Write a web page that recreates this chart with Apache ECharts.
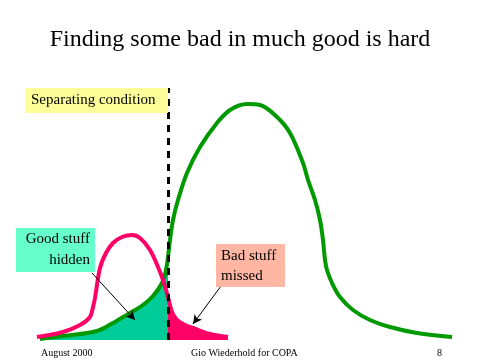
<!DOCTYPE html>
<html>
<head>
<meta charset="utf-8">
<script src="https://cdn.jsdelivr.net/npm/echarts@6/dist/echarts.min.js"></script>
<style>html,body{margin:0;padding:0;background:#fff}#c{width:480px;height:360px}</style>
</head>
<body>
<div id="c"></div>
<script>
// Score (x) vs. frequency (y)
const goodX = [4, 27, 61, 77, 87, 94, 107, 117, 126, 130, 132, 134, 137, 142, 151, 164, 181, 194, 211, 224, 241, 254, 267, 272, 279, 284, 287, 289, 291, 296, 304, 317, 334, 354, 381, 416];
const goodY = [1, 4, 9, 17, 23, 27, 35, 44, 57, 70, 83, 100, 120, 140, 167, 193, 217, 230, 236, 235, 223, 207, 177, 160, 140, 120, 100, 80, 70, 57, 43, 30, 20, 13, 7, 3];
const badX = [1, 27, 44, 54, 57, 59, 64, 70, 77, 86, 96, 104, 114, 122, 127, 130, 132, 136, 141, 149, 157, 174, 192];
const badY = [3, 8, 15, 23, 33, 42, 72, 87, 97, 103, 105, 102, 90, 73, 60, 50, 43, 28, 20, 15, 12, 6, 3];
const threshold = 132;
const titleText = 'Finding some bad in much good is hard';
const labels = { sep: 'Separating condition', good: 'Good stuff\nhidden', bad: 'Bad stuff\nmissed' };
const arrowGood = [[56, 67], [99, 20]];
const arrowBad = [[185, 54], [157, 16]];
const footer = ['August 2000', 'Gio Wiederhold for COPA', '8'];

const good = goodX.map((x, i) => [x, goodY[i]]);
const bad = badX.map((x, i) => [x, badY[i]]);
const goodHidden = good.filter(p => p[0] <= threshold);
const badMissed = bad.filter(p => p[0] >= threshold);

const serif = '"Liberation Serif", "Times New Roman", serif';
const SM = 0.35;
const chart = echarts.init(document.getElementById('c'), null, { renderer: 'canvas' });
chart.setOption({
  animation: false,
  backgroundColor: '#ffffff',
  grid: { left: 36, top: 88, width: 420, height: 252 },
  xAxis: { type: 'value', min: 0, max: 420, show: false },
  yAxis: { type: 'value', min: 0, max: 252, show: false },
  series: [
    { type: 'line', data: goodHidden, smooth: SM, showSymbol: false, silent: true,
      lineStyle: { width: 0 }, areaStyle: { color: '#00CC99', opacity: 1 }, z: 1 },
    { type: 'line', data: badMissed, smooth: SM, showSymbol: false, silent: true,
      lineStyle: { width: 0 }, areaStyle: { color: '#FF0066', opacity: 1 }, z: 1 },
    { type: 'line', data: good, smooth: SM, showSymbol: false, silent: true,
      lineStyle: { color: '#009900', width: 4 }, z: 3 },
    { type: 'line', data: bad, smooth: SM, showSymbol: false, silent: true,
      lineStyle: { color: '#FF0066', width: 4 }, z: 4 },
    { type: 'line', data: [], silent: true, z: 6,
      markLine: { silent: true, symbol: 'none', label: { show: false },
        lineStyle: { color: '#000', width: 3, type: [7, 6] },
        data: [{ xAxis: threshold }] } },
    { type: 'line', data: [], silent: true, z: 7,
      markLine: { silent: true, symbol: ['none', 'arrow'], symbolSize: [7, 9], label: { show: false },
        lineStyle: { color: '#000', width: 1, type: 'solid' },
        data: [
          [{ coord: arrowGood[0] }, { coord: arrowGood[1] }],
          [{ coord: arrowBad[0] }, { coord: arrowBad[1] }]
        ] } }
  ],
  graphic: [
    { type: 'text', left: 'center', top: 28, style: { text: titleText, font: '24px ' + serif, fill: '#000' } },
    { type: 'rect', shape: { x: 25, y: 88, width: 143, height: 25 }, style: { fill: '#FFFF99' }, z: 10 },
    { type: 'text', x: 31, y: 100, style: { text: labels.sep, font: '15px ' + serif, fill: '#000', textVerticalAlign: 'middle' }, z: 11 },
    { type: 'rect', shape: { x: 16, y: 228, width: 79, height: 44 }, style: { fill: '#66FFCC' }, z: 10 },
    { type: 'text', x: 90, y: 250, style: { text: labels.good, font: '15px ' + serif, lineHeight: 21, fill: '#000', textAlign: 'right', textVerticalAlign: 'middle' }, z: 11 },
    { type: 'rect', shape: { x: 216, y: 244, width: 69, height: 43 }, style: { fill: '#FFB6A3' }, z: 10 },
    { type: 'text', x: 221, y: 266, style: { text: labels.bad, font: '15px ' + serif, lineHeight: 20, fill: '#000', textAlign: 'left', textVerticalAlign: 'middle' }, z: 11 },
    { type: 'text', x: 41, y: 353, style: { text: footer[0], font: '10px ' + serif, fill: '#000', textVerticalAlign: 'middle' } },
    { type: 'text', x: 191, y: 353, style: { text: footer[1], font: '10px ' + serif, fill: '#000', textVerticalAlign: 'middle' } },
    { type: 'text', x: 437, y: 353, style: { text: footer[2], font: '10px ' + serif, fill: '#000', textVerticalAlign: 'middle' } }
  ]
});
</script>
</body>
</html>
